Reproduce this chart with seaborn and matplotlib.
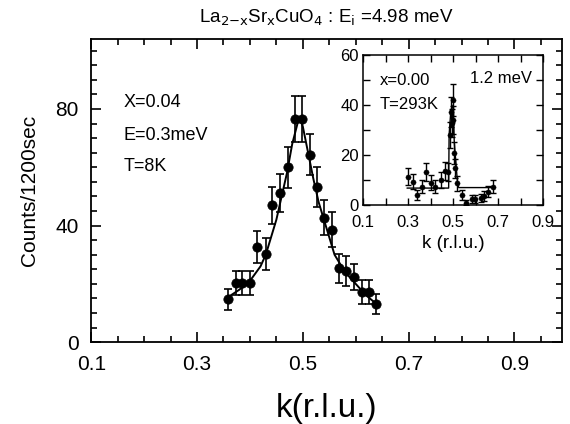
import matplotlib
matplotlib.use("Agg")
import matplotlib.pyplot as plt
from matplotlib.ticker import MultipleLocator
import seaborn as sns
import pandas as pd

# main panel, x = 0.04, E = 0.3 meV, T = 8 K
k_main = [0.359, 0.374, 0.386, 0.401, 0.414, 0.430, 0.442, 0.457, 0.472, 0.486, 0.499,
          0.513, 0.527, 0.540, 0.555, 0.568, 0.582, 0.597, 0.611, 0.625, 0.638]
counts_main = [14.7, 20.3, 20.3, 20.3, 32.6, 30.4, 46.9, 51.1, 60.0, 76.6, 76.6,
               64.3, 53.2, 42.7, 38.6, 25.4, 24.4, 22.4, 17.2, 17.2, 13.0]
err_main = [3.5, 4, 4, 4, 5.5, 5.5, 6.5, 6.5, 7, 8, 8,
            7, 7, 6, 6, 5, 5, 4.5, 4, 4, 3.5]
k_fit_main = [0.355, 0.38, 0.40, 0.42, 0.43, 0.45, 0.46, 0.47, 0.48, 0.49, 0.495,
              0.50, 0.51, 0.52, 0.53, 0.54, 0.56, 0.58, 0.60, 0.62, 0.64]
fit_main = [15, 18, 21, 26, 30, 42, 50, 58, 68, 75, 77,
            74, 65, 56, 48, 42, 30, 24, 20, 16, 13]

# inset, x = 0.00, 1.2 meV, T = 293 K
k_ins = [0.301, 0.321, 0.339, 0.361, 0.380, 0.402, 0.420, 0.447, 0.464, 0.479, 0.484,
         0.490, 0.494, 0.499, 0.501, 0.504, 0.509, 0.516, 0.541, 0.558, 0.583, 0.595,
         0.623, 0.638, 0.657, 0.679]
counts_ins = [11.3, 9.3, 4.0, 7.3, 13.3, 8.9, 7.3, 10.0, 13.6, 13.3, 28.0,
              37.3, 32.7, 34.0, 42.0, 20.7, 14.7, 8.7, 4.0, 0.9, 2.3, 2.3,
              2.7, 3.6, 5.3, 7.3]
err_ins = [3.3, 3.0, 2.0, 2.7, 3.6, 3.0, 2.7, 3.2, 3.6, 3.6, 5.3,
           6.0, 5.7, 5.8, 6.5, 4.5, 3.8, 3.0, 2.0, 1.0, 1.5, 1.5,
           1.6, 1.9, 2.3, 2.7]
k_fit_ins = [0.295, 0.480, 0.482, 0.490, 0.500, 0.505, 0.520, 0.525, 0.680]
fit_ins = [6.7, 6.7, 28, 38, 40, 25, 8, 6.9, 6.9]

df_main = pd.DataFrame({"k": k_main, "counts": counts_main, "err": err_main})
df_fit_main = pd.DataFrame({"k": k_fit_main, "counts": fit_main})
df_ins = pd.DataFrame({"k": k_ins, "counts": counts_ins, "err": err_ins})
df_fit_ins = pd.DataFrame({"k": k_fit_ins, "counts": fit_ins})

sns.set_style("ticks", {"axes.edgecolor": "black", "text.color": "black",
                        "axes.labelcolor": "black", "xtick.color": "black",
                        "ytick.color": "black"})
plt.rcParams["font.family"] = ["Liberation Sans", "DejaVu Sans"]

fig = plt.figure(figsize=(5.7, 4.24), dpi=100)
ax = fig.add_axes([0.160, 0.193, 0.826, 0.715])

ax.errorbar(df_main["k"], df_main["counts"], yerr=df_main["err"], fmt="none",
            ecolor="black", elinewidth=1.2, capsize=3, capthick=1.2, zorder=2)
sns.lineplot(data=df_fit_main, x="k", y="counts", ax=ax, color="black", linewidth=1.4,
             estimator=None, sort=True, zorder=3)
sns.scatterplot(data=df_main, x="k", y="counts", ax=ax, color="black", s=45,
                edgecolor="black", zorder=4)

ax.set_xlim(0.1, 0.99)
ax.set_ylim(0, 104)
ax.xaxis.set_minor_locator(MultipleLocator(0.05))
ax.yaxis.set_major_locator(MultipleLocator(40))
ax.yaxis.set_minor_locator(MultipleLocator(5))
ax.set_xticks([0.1, 0.3, 0.5, 0.7, 0.9])
ax.set_xticklabels(["0.1", "0.3", "0.5", "0.7", "0.9"])
ax.tick_params(which="both", direction="in", top=True, right=True, width=1.2)
ax.tick_params(which="major", length=7, labelsize=15)
ax.tick_params(axis="x", which="major", pad=9)
ax.tick_params(axis="y", which="major", pad=9)
ax.tick_params(which="minor", length=4)
for s in ax.spines.values():
    s.set_linewidth(1.3)
ax.set_xlabel("k(r.l.u.)", fontsize=24, labelpad=14)
ax.set_ylabel("Counts/1200sec", fontsize=15, labelpad=12)
ax.set_title(r"La$_{2\mathsf{-x}}$Sr$_\mathsf{x}$CuO$_4$ : E$_\mathsf{i}$ =4.98 meV",
             fontsize=13.5, pad=12)

ax.text(0.068, 0.789, "X=0.04", transform=ax.transAxes, fontsize=13, va="center")
ax.text(0.068, 0.683, "E=0.3meV", transform=ax.transAxes, fontsize=13, va="center")
ax.text(0.068, 0.578, "T=8K", transform=ax.transAxes, fontsize=13, va="center")

# inset
axi = fig.add_axes([0.637, 0.517, 0.316, 0.353])
axi.errorbar(df_ins["k"], df_ins["counts"], yerr=df_ins["err"], fmt="none",
             ecolor="black", elinewidth=1.0, capsize=2, capthick=1.0, zorder=2)
sns.lineplot(data=df_fit_ins, x="k", y="counts", ax=axi, color="black", linewidth=1.0,
             estimator=None, sort=False, zorder=3)
sns.scatterplot(data=df_ins, x="k", y="counts", ax=axi, color="black", s=14,
                edgecolor="black", zorder=4)
axi.set_xlim(0.1, 0.9)
axi.set_ylim(0, 60)
axi.set_xticks([0.1, 0.3, 0.5, 0.7, 0.9])
axi.set_xticklabels(["0.1", "0.3", "0.5", "0.7", "0.9"])
axi.xaxis.set_minor_locator(MultipleLocator(0.1))
axi.yaxis.set_major_locator(MultipleLocator(20))
axi.yaxis.set_minor_locator(MultipleLocator(10))
axi.tick_params(which="both", direction="in", top=True, right=True, width=1.0)
axi.tick_params(which="major", length=5, labelsize=12)
axi.tick_params(axis="x", which="major", pad=7)
axi.tick_params(axis="y", which="major", pad=3)
axi.tick_params(which="minor", length=5)
for s in axi.spines.values():
    s.set_linewidth(1.1)
axi.set_xlabel("k (r.l.u.)", fontsize=13.5, labelpad=4)
axi.set_ylabel("")
axi.text(0.094, 0.833, "x=0.00", transform=axi.transAxes, fontsize=12, va="center")
axi.text(0.094, 0.667, "T=293K", transform=axi.transAxes, fontsize=12, va="center")
axi.text(0.94, 0.847, "1.2 meV", transform=axi.transAxes, fontsize=12, va="center", ha="right")

fig.savefig("out.png", dpi=100)
